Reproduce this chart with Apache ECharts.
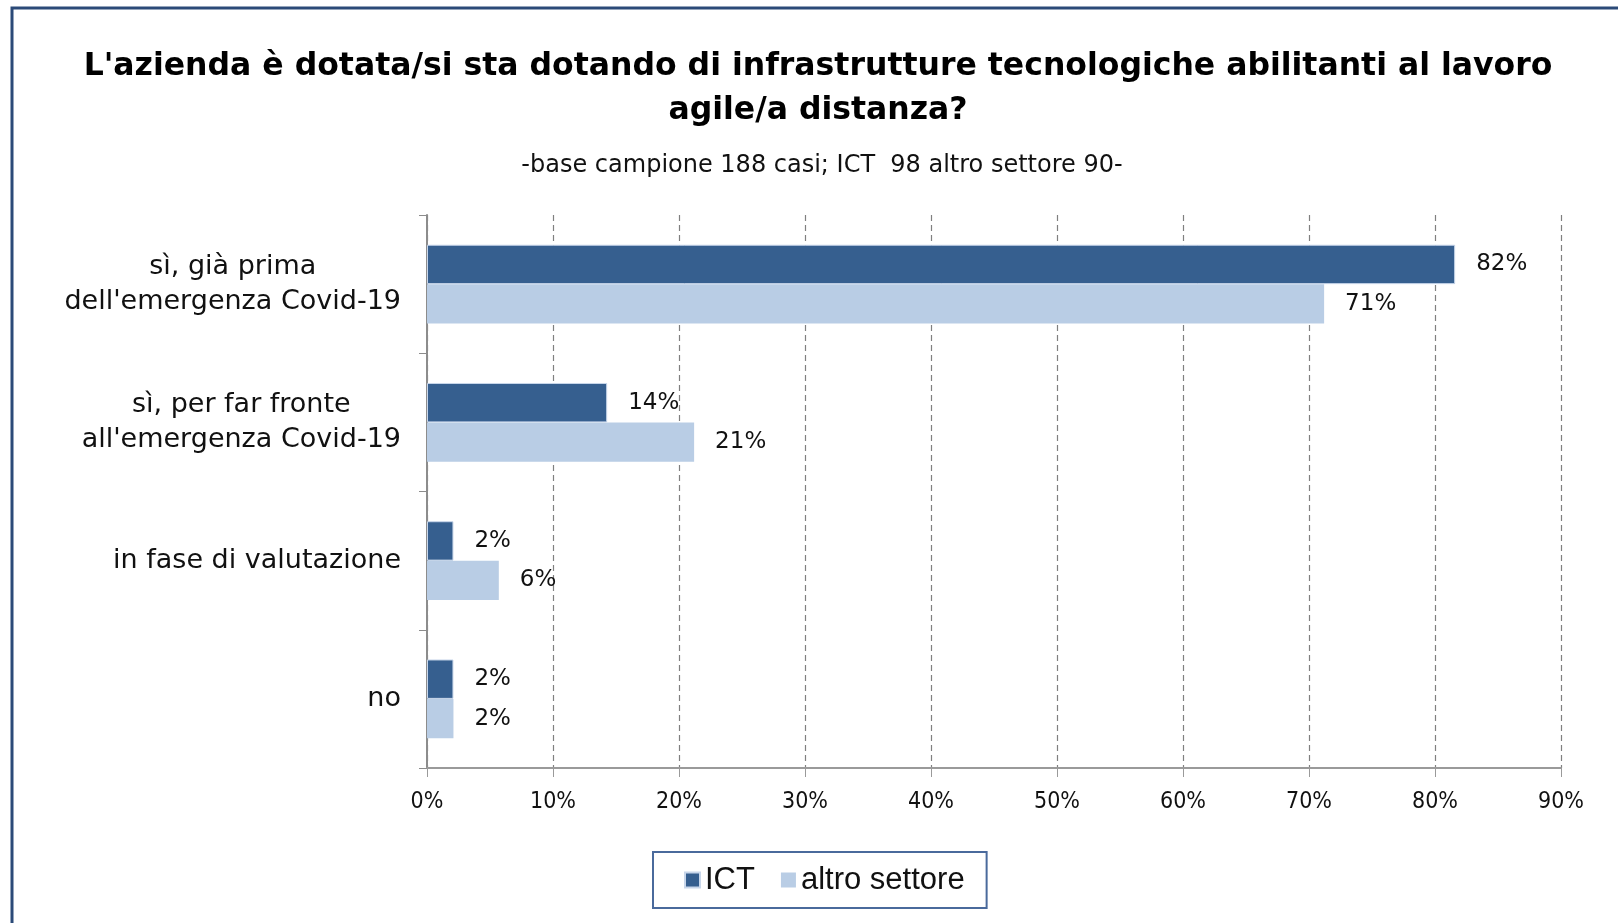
<!DOCTYPE html>
<html>
<head>
<meta charset="utf-8">
<script src="https://cdn.jsdelivr.net/npm/echarts@6/dist/echarts.min.js"></script>
<style>
html,body{margin:0;padding:0;background:#fff;}
#chart{width:1618px;height:923px;}
</style>
</head>
<body>
<div id="chart"></div>
<script>
const titleText = "L'azienda è dotata/si sta dotando di infrastrutture tecnologiche abilitanti al lavoro\nagile/a distanza?";
const subtitleText = "-base campione 188 casi; ICT  98 altro settore 90-";
const categories = ["sì, già prima\ndell'emergenza Covid-19", "sì, per far fronte\nall'emergenza Covid-19", "in fase di valutazione", "no"];
const seriesNames = ["ICT", "altro settore"];
const ictValues = [81.6, 14.3, 2.1, 2.1];
const altroValues = [71.2, 21.2, 5.7, 2.1];
const xTicks = [0, 10, 20, 30, 40, 50, 60, 70, 80, 90];

const chart = echarts.init(document.getElementById('chart'));
const catFont = 'DejaVu Sans';
const labelCfg = {
  show: true,
  position: 'right',
  distance: 21,
  fontFamily: catFont,
  fontSize: 23,
  color: '#111',
  formatter: p => Math.round(p.value) + '%'
};
chart.setOption({
  backgroundColor: '#ffffff',
  animation: false,
  title: [
    {
      text: titleText,
      left: 813, top: 40, textAlign: 'center',
      textStyle: {fontFamily: catFont, fontWeight: 'bold', fontSize: 31.5, lineHeight: 44, color: '#000'}
    },
    {
      text: subtitleText,
      left: 817, top: 147, textAlign: 'center',
      textStyle: {fontFamily: catFont, fontWeight: 'normal', fontSize: 24, lineHeight: 28, color: '#111'}
    }
  ],
  graphic: [{
    type: 'rect', silent: true, z: 100,
    shape: {x: 12, y: 8, width: 1700, height: 1000},
    style: {fill: 'none', stroke: '#2b4a78', lineWidth: 3}
  }],
  legend: {
    data: seriesNames,
    left: 653, top: 852,
    orient: 'horizontal',
    padding: [11, 22, 11, 31],
    itemWidth: 15, itemHeight: 15, itemGap: 26,
    icon: 'rect',
    borderColor: '#4a6a9c', borderWidth: 2,
    textStyle: {fontFamily: 'Liberation Sans', fontSize: 31, color: '#111', lineHeight: 34}
  },
  grid: {left: 427, right: 57, top: 215, bottom: 155, containLabel: false},
  xAxis: {
    type: 'value', min: 0, max: xTicks[xTicks.length - 1], interval: 10,
    axisLine: {show: true, lineStyle: {color: '#9a9a9a', width: 2}},
    axisTick: {show: true, length: 9, lineStyle: {color: '#9a9a9a', width: 1}},
    splitLine: {show: true, lineStyle: {color: '#808080', width: 1.2, type: [6, 4]}},
    axisLabel: {
      margin: 23, fontFamily: 'DejaVu Sans Condensed', fontSize: 23, color: '#111',
      formatter: v => v + '%'
    }
  },
  yAxis: {
    type: 'category', inverse: true, data: categories,
    axisLine: {show: true, lineStyle: {color: '#8c8c8c', width: 2}},
    axisTick: {show: true, length: 8, lineStyle: {color: '#8c8c8c', width: 1}},
    axisLabel: {
      margin: 26, align: 'right',
      formatter: v => v.split('\n').map(s => '{c|' + s + '}').join('\n'),
      rich: {c: {fontFamily: catFont, fontSize: 27, lineHeight: 35, color: '#111', align: 'center'}}
    }
  },
  series: [
    {
      name: seriesNames[0], type: 'bar', data: ictValues,
      barGap: '0%', barCategoryGap: '43%',
      itemStyle: {color: '#365f8f', borderColor: '#c8d6ea', borderWidth: 1},
      label: labelCfg
    },
    {
      name: seriesNames[1], type: 'bar', data: altroValues,
      barGap: '0%', barCategoryGap: '43%',
      itemStyle: {color: '#b9cde5'},
      label: labelCfg
    }
  ]
});
</script>
</body>
</html>
